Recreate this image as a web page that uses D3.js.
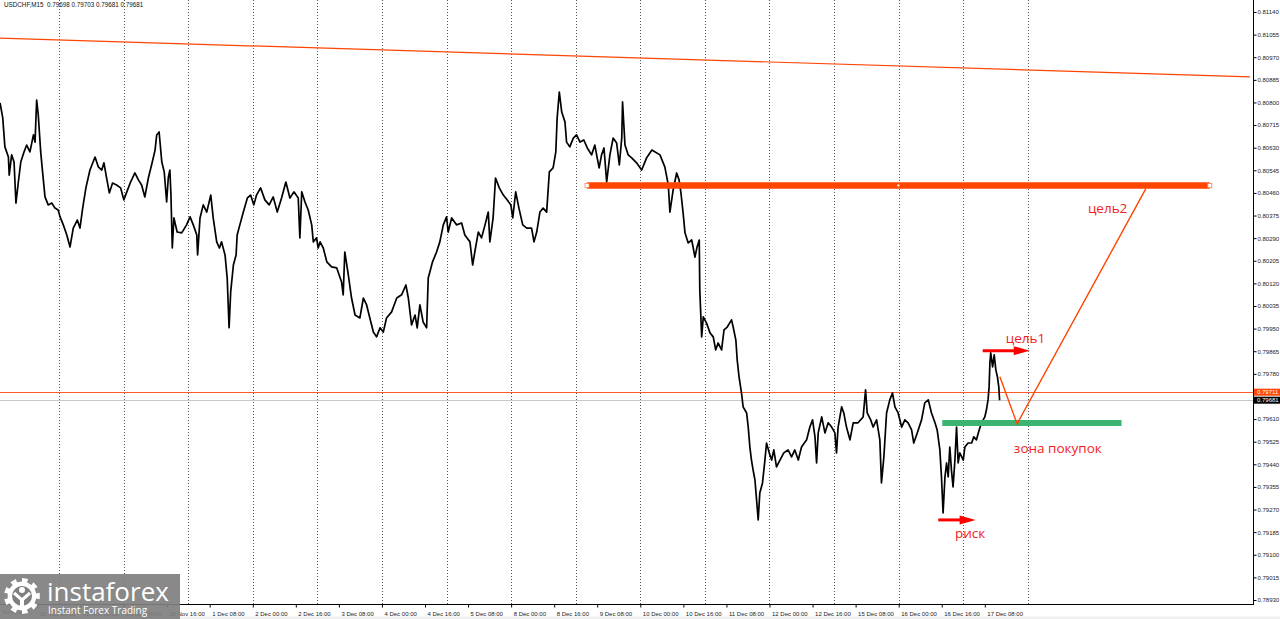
<!DOCTYPE html>
<html><head><meta charset="utf-8">
<script src="https://cdn.jsdelivr.net/npm/d3@7"></script>
<style>
html,body{margin:0;padding:0;background:#fff;}
svg{display:block;}
</style></head><body>
<svg id="c" width="1280" height="619"></svg>
<script>
// ---------------- DATA ----------------
const symbolTitle = "USDCHF,M15  0.79698 0.79703 0.79681 0.79681";

// trading hours counted from 27 Nov 00:00 (weekends removed)
const hours = [-21.9,-20.9,-20.1,-18.8,-18.5,-17.6,-16.7,-16.0,-15.1,-14.2,-13.0,-12.0,-10.8,-9.5,-8.9,-8.3,-7.7,-6.8,-6.1,-5.2,-4.0,-2.7,-1.5,-0.3,0.4,1.6,2.9,4.1,5.3,6.8,7.8,8.8,10.0,11.5,13.4,14.6,15.9,16.7,17.7,18.7,19.9,21.4,22.9,24.1,25.2,26.6,28.2,29.5,30.7,31.9,33.2,34.4,35.7,36.3,37.2,38.2,39.1,40.0,40.6,41.2,41.6,42.1,42.7,43.9,45.6,47.4,48.7,49.9,51.2,51.5,52.4,53.6,54.9,56.4,57.3,58.6,59.6,60.4,61.7,62.5,63.2,63.8,64.8,65.8,66.2,67.2,68.5,70.0,71.2,72.4,73.4,74.9,76.5,78.1,79.6,81.1,82.7,84.3,85.8,87.3,88.9,89.5,90.2,91.4,92.6,93.9,94.5,95.7,96.3,97.0,98.2,99.5,101.3,103.2,105.0,105.6,106.2,107.5,108.7,110.0,111.8,113.1,114.3,115.5,116.8,118.0,119.3,120.5,121.7,123.6,125.5,127.3,128.9,129.8,131.0,132.3,133.1,134.1,135.3,136.6,137.2,137.8,138.8,140.3,141.5,142.8,144.0,144.6,145.9,147.7,149.6,150.8,152.7,153.7,154.5,155.8,157.0,158.3,159.5,160.1,161.3,162.2,163.6,165.1,166.5,167.9,168.6,169.7,170.9,172.3,173.8,175.6,176.5,177.5,178.7,179.9,181.2,182.2,183.6,184.6,185.1,185.9,186.8,188.0,188.6,189.8,191.1,192.3,193.6,195.0,196.3,197.9,199.1,200.0,200.7,201.6,202.5,203.5,204.7,205.9,207.2,208.2,209.1,209.4,210.3,211.5,212.9,214.6,216.5,218.3,220.3,223.3,225.1,226.4,227.0,228.2,229.5,230.4,231.1,231.9,232.6,233.8,235.1,236.3,237.1,237.9,238.1,238.8,239.4,240.6,241.9,243.1,244.0,244.9,246.2,247.1,248.3,249.9,250.5,251.5,252.0,252.7,253.6,254.2,255.5,256.1,256.7,257.3,257.9,258.6,259.2,259.8,260.4,261.4,262.3,262.9,263.9,264.8,265.6,266.6,267.9,269.3,270.9,272.2,273.4,274.7,275.9,277.8,279.0,280.0,280.9,281.5,282.1,283.4,284.6,285.8,287.1,288.3,288.9,289.5,290.8,291.6,292.6,293.9,295.1,296.9,298.8,299.7,300.3,301.6,302.5,303.8,305.0,305.6,306.5,307.5,308.7,309.7,310.6,311.8,313.1,314.3,315.5,316.8,317.6,318.9,320.5,321.7,323.0,324.2,325.5,326.3,327.3,327.9,328.5,329.2,329.8,330.4,331.0,331.6,332.2,332.9,333.5,334.1,334.7,336.0,336.6,337.8,339.1,339.9,340.9,341.9,342.8,344.0,344.6,345.2,345.6,345.9,346.2,346.9,347.5,348.1,348.7,349.2,349.5];

const closes = [0.80798,0.80742,0.80633,0.80595,0.80527,0.80603,0.80576,0.80422,0.80501,0.80576,0.80614,0.80640,0.80614,0.80678,0.80651,0.80809,0.80753,0.80614,0.80539,0.80445,0.80415,0.80422,0.80403,0.80396,0.80370,0.80340,0.80302,0.80257,0.80328,0.80358,0.80328,0.80403,0.80479,0.80546,0.80595,0.80558,0.80546,0.80573,0.80516,0.80460,0.80497,0.80490,0.80479,0.80434,0.80464,0.80501,0.80535,0.80509,0.80490,0.80445,0.80516,0.80565,0.80621,0.80678,0.80689,0.80576,0.80539,0.80426,0.80516,0.80546,0.80452,0.80253,0.80366,0.80313,0.80310,0.80340,0.80370,0.80340,0.80302,0.80227,0.80366,0.80415,0.80388,0.80452,0.80366,0.80276,0.80253,0.80276,0.80227,0.80140,0.79953,0.80088,0.80189,0.80227,0.80302,0.80340,0.80388,0.80441,0.80452,0.80415,0.80452,0.80479,0.80434,0.80415,0.80445,0.80388,0.80441,0.80501,0.80441,0.80464,0.80441,0.80291,0.80464,0.80426,0.80396,0.80340,0.80276,0.80291,0.80253,0.80276,0.80253,0.80201,0.80182,0.80178,0.80125,0.80077,0.80238,0.80152,0.80065,0.80001,0.79990,0.80065,0.80039,0.79990,0.79937,0.79919,0.79953,0.79937,0.79990,0.80013,0.80065,0.80077,0.80114,0.80065,0.79964,0.80001,0.79953,0.80039,0.79975,0.79953,0.80140,0.80163,0.80201,0.80238,0.80276,0.80340,0.80370,0.80313,0.80366,0.80340,0.80347,0.80302,0.80276,0.80189,0.80238,0.80313,0.80291,0.80340,0.80388,0.80276,0.80366,0.80516,0.80479,0.80452,0.80434,0.80415,0.80366,0.80464,0.80403,0.80340,0.80328,0.80328,0.80276,0.80313,0.80388,0.80403,0.80388,0.80539,0.80554,0.80614,0.80742,0.80839,0.80764,0.80727,0.80651,0.80633,0.80666,0.80678,0.80651,0.80659,0.80629,0.80603,0.80640,0.80591,0.80554,0.80603,0.80629,0.80501,0.80603,0.80666,0.80648,0.80565,0.80666,0.80802,0.80640,0.80603,0.80591,0.80573,0.80546,0.80591,0.80621,0.80603,0.80558,0.80490,0.80388,0.80471,0.80535,0.80509,0.80460,0.80385,0.80310,0.80272,0.80283,0.80219,0.80257,0.80283,0.80095,0.79919,0.79994,0.79971,0.79934,0.79919,0.79870,0.79896,0.79870,0.79945,0.79956,0.79983,0.79956,0.79907,0.79832,0.79768,0.79708,0.79656,0.79633,0.79580,0.79505,0.79456,0.79419,0.79381,0.79306,0.79231,0.79332,0.79370,0.79456,0.79520,0.79483,0.79456,0.79494,0.79430,0.79456,0.79483,0.79494,0.79468,0.79494,0.79456,0.79505,0.79532,0.79580,0.79607,0.79543,0.79445,0.79558,0.79618,0.79558,0.79596,0.79580,0.79558,0.79483,0.79580,0.79656,0.79633,0.79580,0.79532,0.79596,0.79596,0.79618,0.79720,0.79633,0.79607,0.79580,0.79607,0.79532,0.79370,0.79468,0.79633,0.79682,0.79708,0.79656,0.79633,0.79580,0.79607,0.79596,0.79569,0.79520,0.79558,0.79607,0.79671,0.79682,0.79633,0.79596,0.79569,0.79494,0.79393,0.79257,0.79393,0.79445,0.79393,0.79505,0.79419,0.79355,0.79456,0.79580,0.79445,0.79483,0.79456,0.79505,0.79520,0.79520,0.79543,0.79532,0.79569,0.79596,0.79618,0.79644,0.79682,0.79731,0.79821,0.79859,0.79806,0.79851,0.79795,0.79768,0.79731,0.79681];

const priceTicks = [0.81140,0.81055,0.80970,0.80885,0.80800,0.80715,0.80630,0.80545,0.80460,0.80375,0.80290,0.80205,0.80120,0.80035,0.79950,0.79865,0.79780,0.79610,0.79525,0.79440,0.79355,0.79270,0.79185,0.79100,0.79015,0.78930];

const firstTimeLabel = "Nov 2014";
const timeTickHours = [-8,8,24,40,56,72,88,104,120,136,152,168,184,200,216,232,248,264,280,296,312,328,344];
const timeTickLabels = ["26 Nov 16:00","27 Nov 08:00","28 Nov 00:00","28 Nov 16:00","1 Dec 08:00","2 Dec 00:00","2 Dec 16:00","3 Dec 08:00","4 Dec 00:00","4 Dec 16:00","5 Dec 08:00","8 Dec 00:00","8 Dec 16:00","9 Dec 08:00","10 Dec 00:00","10 Dec 16:00","11 Dec 08:00","12 Dec 00:00","12 Dec 16:00","15 Dec 08:00","16 Dec 00:00","16 Dec 16:00","17 Dec 08:00"];
const dayStartHours = [0,24,48,72,96,120,144,168,192,216,240,264,288,312,336,360];

const askPrice = 0.79711;
const bidPrice = 0.79681;

const trendTimes = [-21.9, 442.5];
const trendPrices = [0.81042, 0.80896];

const levelTimes = [196.2, 427.6];
const levelPrice = 0.80488;

const zoneTimes = [328.2, 394.8];
const zonePrice = 0.79595;

const pathTimes = [349.6, 356.0, 403.8];
const pathPrices = [0.79769, 0.79592, 0.80475];

const arrowTarget1Times = [343.2, 360.7];
const arrowTarget1Price = 0.79867;
const arrowRiskTimes = [326.7, 340.6];
const arrowRiskPrice = 0.79231;

const noteTexts = ["цель1", "цель2", "зона покупок", "риск"];
const noteTimes = [351.8, 382.3, 354.8, 332.9];
const notePrices = [0.79896, 0.80385, 0.79483, 0.79163];

// ---------------- CHART ----------------
const svg = d3.select("#c");
const plotRight = 1253, plotBottom = 604;
const x = d3.scaleLinear().domain([-21.92, 442.54]).range([0, 1250]);
const y = d3.scaleLinear().domain([0.78930, 0.81140]).range([600, 12]);
const axisFont = "'Liberation Sans', Arial, sans-serif";

svg.append("rect").attr("width",1280).attr("height",619).attr("fill","#fff");
svg.append("rect").attr("x",0).attr("y",616.5).attr("width",1280).attr("height",3).attr("fill","#efefef");

svg.append("defs").append("clipPath").attr("id","plot")
  .append("rect").attr("x",0).attr("y",0).attr("width",plotRight).attr("height",plotBottom);

const plot = svg.append("g").attr("clip-path","url(#plot)");

// grid
plot.selectAll("line.grid").data(dayStartHours).join("line")
  .attr("class","grid")
  .attr("x1",d=>Math.round(x(d))+0.5).attr("x2",d=>Math.round(x(d))+0.5)
  .attr("y1",0).attr("y2",plotBottom)
  .attr("stroke","#555").attr("stroke-width",1).attr("stroke-dasharray","1,2");

// trend line
plot.append("line")
  .attr("x1",x(trendTimes[0])).attr("y1",y(trendPrices[0]))
  .attr("x2",x(trendTimes[1])).attr("y2",y(trendPrices[1]))
  .attr("stroke","#ff4500").attr("stroke-width",1.2);

// bid / ask lines
plot.append("line").attr("x1",0).attr("x2",plotRight)
  .attr("y1",Math.round(y(bidPrice))+0.5).attr("y2",Math.round(y(bidPrice))+0.5)
  .attr("stroke","#c8c8c8").attr("stroke-width",1);
plot.append("line").attr("x1",0).attr("x2",plotRight)
  .attr("y1",Math.round(y(askPrice))+0.5).attr("y2",Math.round(y(askPrice))+0.5)
  .attr("stroke","#ff5a2a").attr("stroke-width",1);

// price line
const series = hours.map((h,i)=>({h, p: closes[i]}));
plot.append("path").datum(series)
  .attr("fill","none").attr("stroke","#000").attr("stroke-width",1.7)
  .attr("stroke-linejoin","round")
  .attr("d", d3.line().x(d=>x(d.h)).y(d=>y(d.p)));

// resistance level
plot.append("line")
  .attr("x1",x(levelTimes[0])).attr("x2",x(levelTimes[1]))
  .attr("y1",y(levelPrice)).attr("y2",y(levelPrice))
  .attr("stroke","#ff4500").attr("stroke-width",6.5);
[levelTimes[0], levelTimes[1]].forEach(t=>{
  plot.append("rect").attr("x",x(t)-2).attr("y",y(levelPrice)-2).attr("width",4).attr("height",4)
    .attr("fill","#fff").attr("stroke","#ff7f50").attr("stroke-width",0.8);
});
plot.append("rect").attr("x",x((levelTimes[0]+levelTimes[1])/2)-1).attr("y",y(levelPrice)-1)
  .attr("width",2).attr("height",2).attr("fill","#fff");

// buy zone
plot.append("line")
  .attr("x1",x(zoneTimes[0])).attr("x2",x(zoneTimes[1]))
  .attr("y1",y(zonePrice)).attr("y2",y(zonePrice))
  .attr("stroke","#3cb371").attr("stroke-width",6);

// projected path
plot.append("path").datum(pathTimes.map((t,i)=>({t,p:pathPrices[i]})))
  .attr("fill","none").attr("stroke","#ff4500").attr("stroke-width",1.4)
  .attr("d", d3.line().x(d=>x(d.t)).y(d=>y(d.p)));

// arrows
function arrow(times, price){
  const x1 = x(times[0]), x2 = x(times[1]), yy = y(price);
  plot.append("line").attr("x1",x1).attr("x2",x2-12).attr("y1",yy).attr("y2",yy)
    .attr("stroke","#f00").attr("stroke-width",3);
  plot.append("path").attr("d",`M${x2-16},${yy-4.5}L${x2},${yy}L${x2-16},${yy+4.5}Z`).attr("fill","#f00");
}
arrow(arrowTarget1Times, arrowTarget1Price);
arrow(arrowRiskTimes, arrowRiskPrice);

// notes
plot.selectAll("text.note").data(noteTexts).join("text")
  .attr("class","note")
  .attr("x",(d,i)=>x(noteTimes[i])).attr("y",(d,i)=>y(notePrices[i]))
  .attr("fill","#f21d1d").attr("font-family","'Open Sans', sans-serif").attr("font-size","13.5px")
  .text(d=>d);

// header
svg.append("text").attr("x",4).attr("y",6.5)
  .attr("font-family",axisFont).attr("font-size","6.3px").attr("fill","#111")
  .attr("xml:space","preserve").style("white-space","pre").text(symbolTitle);

// right axis
svg.append("line").attr("x1",plotRight+0.5).attr("x2",plotRight+0.5).attr("y1",0).attr("y2",plotBottom)
  .attr("stroke","#000").attr("stroke-width",1);
const ya = svg.append("g").attr("transform",`translate(${plotRight+0.5},0)`)
  .call(d3.axisRight(y).tickValues(priceTicks).tickSize(3).tickPadding(1).tickFormat(d3.format(".5f")));
ya.select(".domain").remove();
ya.selectAll("line").attr("stroke","#000");
ya.selectAll("text").attr("font-family",axisFont).attr("font-size","6px").attr("fill","#222");

// price labels on axis
[[askPrice,"#ff4500"],[bidPrice,"#000"]].forEach(([p,c])=>{
  const yy = y(p);
  svg.append("rect").attr("x",plotRight+1).attr("y",yy-3.5).attr("width",27).attr("height",7).attr("fill",c);
  svg.append("text").attr("x",plotRight+4).attr("y",yy+2.2)
    .attr("font-family",axisFont).attr("font-size","6px").attr("fill","#fff")
    .text(d3.format(".5f")(p));
});

// bottom axis
svg.append("line").attr("x1",0).attr("x2",plotRight+1).attr("y1",plotBottom+0.5).attr("y2",plotBottom+0.5)
  .attr("stroke","#000").attr("stroke-width",1);
const xa = svg.append("g").attr("transform",`translate(0,${plotBottom+0.5})`)
  .call(d3.axisBottom(x).tickValues(timeTickHours).tickSize(3).tickPadding(4)
    .tickFormat((d,i)=>timeTickLabels[i]));
xa.select(".domain").remove();
xa.selectAll("line").attr("stroke","#000");
xa.selectAll("text").attr("text-anchor","start").attr("dx","2px")
  .attr("font-family",axisFont).attr("font-size","6px").attr("fill","#222");
svg.append("text").attr("x",2).attr("y",613.5)
  .attr("font-family",axisFont).attr("font-size","6px").attr("fill","#222")
  .text(firstTimeLabel);

// logo
const logo = svg.append("g").attr("transform","translate(0,574)");
logo.append("rect").attr("width",180).attr("height",45).attr("fill","#7f7f7f").attr("opacity",0.92);
const cx = 22, cy = 22, teeth = 9;
let gp = "";
for (let i=0;i<teeth*2;i++){
  const a0 = (i/(teeth*2))*2*Math.PI - Math.PI/2;
  const a1 = ((i+1)/(teeth*2))*2*Math.PI - Math.PI/2;
  const r = i%2===0 ? 18 : 14.5;
  gp += (i===0?"M":"L")+(cx+r*Math.cos(a0))+","+(cy+r*Math.sin(a0))+"L"+(cx+r*Math.cos(a1))+","+(cy+r*Math.sin(a1));
}
gp += "Z";
logo.append("path").attr("d",gp).attr("fill","#fff");
logo.append("circle").attr("cx",cx).attr("cy",cy).attr("r",10).attr("fill","#7f7f7f");
logo.append("circle").attr("cx",cx).attr("cy",cy-6).attr("r",3).attr("fill","#fff");
logo.append("path").attr("d",`M${cx-8},${cy-3}L${cx},${cy+4}L${cx+8},${cy-3}`).attr("fill","none").attr("stroke","#fff").attr("stroke-width",3);
logo.append("rect").attr("x",cx-2).attr("y",cy+2).attr("width",4).attr("height",12).attr("fill","#fff");
logo.append("text").attr("x",47).attr("y",27).attr("font-family","'Open Sans', sans-serif").attr("font-size","26px")
  .attr("fill","#fff").text("instaforex");
logo.append("text").attr("x",48).attr("y",39.5).attr("font-family","'Open Sans', sans-serif").attr("font-size","10px")
  .attr("fill","#fff").text("Instant Forex Trading");
</script>
</body></html>
